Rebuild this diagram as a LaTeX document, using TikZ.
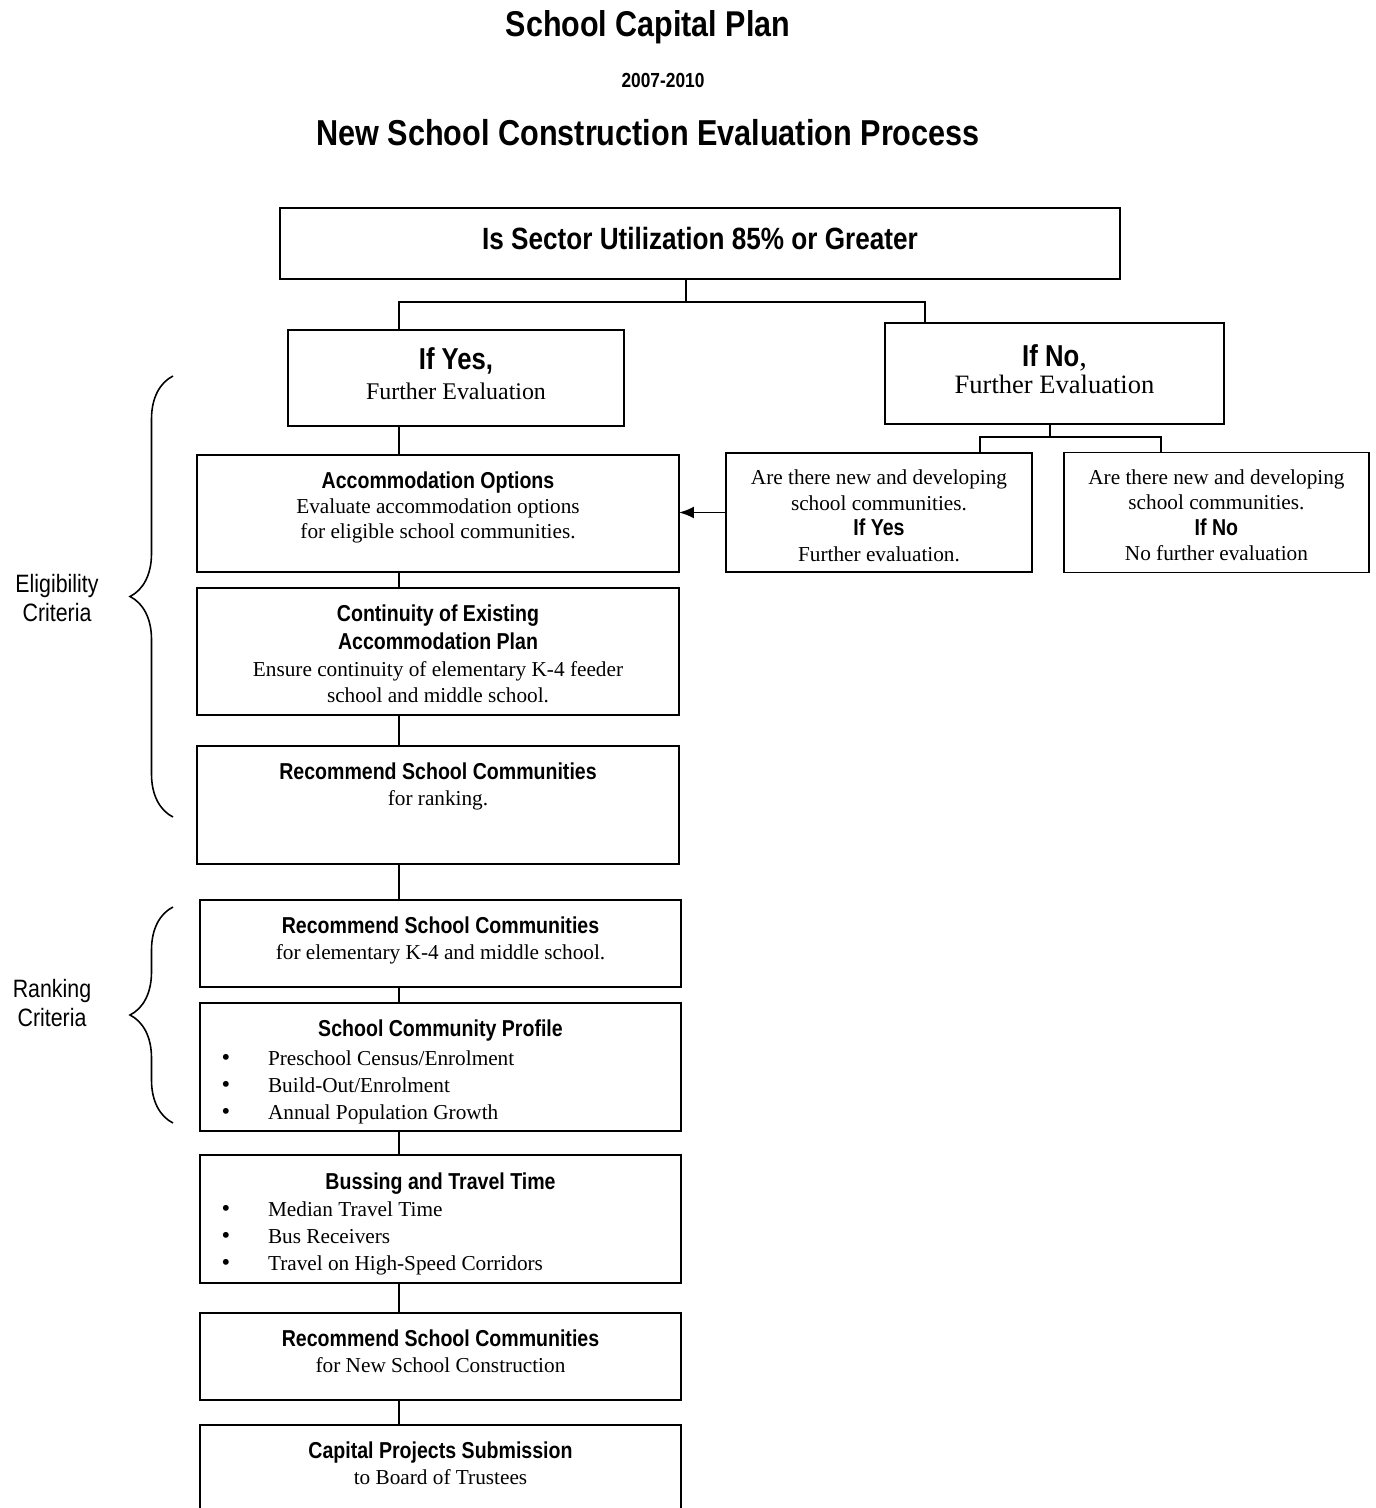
\documentclass[tikz,border=0pt]{standalone}
\usepackage{fontspec}
\setmainfont{Liberation Serif}
\newfontfamily\narrowsf[FakeStretch=0.85]{Liberation Sans}
\usetikzlibrary{arrows.meta, positioning, decorations.pathreplacing}

\newcommand{\hd}{\narrowsf\bfseries\fontsize{13.1}{15.4}\selectfont}
\newcommand{\bd}{\rmfamily\mdseries\fontsize{12.1}{14.5}\selectfont}
\newcommand{\bulletline}[1]{\makebox[9.62cm][l]{\hspace{0.43cm}\makebox[0.93cm][l]{\fontsize{14}{14.5}\selectfont\textbullet}#1}}

\begin{document}
\begin{tikzpicture}[
    x=0.02cm, y=-0.02cm,
    box/.style={draw, line width=1.1pt, inner sep=0pt, outer sep=0pt},
    boxtext/.style={align=center, inner sep=0pt, font=\bd},
    link/.style={line width=1.1pt},
    curly/.style={decorate, decoration={brace, amplitude=0.86cm, aspect=0.5}, line width=0.9pt},
    side/.style={align=center, font=\narrowsf\fontsize{14.3}{16}\selectfont}
]
    \useasboundingbox (0,0) rectangle (1376,1508);

    % titles
    \node[font=\narrowsf\bfseries\fontsize{20.4}{24}\selectfont] (title) at (648,27) {School Capital Plan};
    \node[font=\narrowsf\bfseries\fontsize{11.6}{14}\selectfont] (years) at (663,80) {2007-2010};
    \node[font=\narrowsf\bfseries\fontsize{20.5}{24}\selectfont] (subtitle) at (648,133) {New School Construction Evaluation Process};

    % decision
    \node[box, minimum width=16.8cm, minimum height=1.42cm, text depth=0.22cm,
          font=\narrowsf\bfseries\fontsize{17.5}{20}\selectfont] (util) at (700,243.5) {Is Sector Utilization 85\% or Greater};
    \node[box, minimum width=6.72cm, minimum height=1.92cm] (ifyes) at (456,378) {};
    \node[boxtext, below=0.34cm of ifyes.north] (ifyest)
        {\narrowsf\bfseries\fontsize{17.2}{19}\selectfont If Yes,\\[2.6pt] \rmfamily\mdseries\fontsize{13.6}{16}\selectfont Further Evaluation};
    \node[box, minimum width=6.78cm, minimum height=2.02cm] (ifno) at (1054.5,373.5) {};
    \node[boxtext, below=0.42cm of ifno.north] (ifnot)
        {\narrowsf\bfseries\fontsize{17.2}{19}\selectfont If No{\rmfamily\mdseries,}\\[0.8pt] \rmfamily\mdseries\fontsize{15.1}{17}\selectfont Further Evaluation};

    % if no branch
    \node[box, minimum width=6.12cm, minimum height=2.38cm] (subyes) at (879,512.5) {};
    \node[boxtext, below=0.33cm of subyes.north] (subyest)
        {\bd Are there new and developing\\ \bd school communities.\\ \hd If Yes\\ \bd Further evaluation.};
    \node[box, minimum width=6.10cm, minimum height=2.40cm, right=0.64cm of subyes] (subno) {};
    \node[boxtext, below=0.33cm of subno.north] (subnot)
        {\bd Are there new and developing\\ \bd school communities.\\ \hd If No\\ \bd No further evaluation};

    % main column
    \node[box, minimum width=9.64cm, minimum height=2.34cm, below=0.58cm of ifyes, xshift=-0.36cm] (accom) {};
    \node[boxtext, below=0.32cm of accom.north] (accomt)
        {\hd Accommodation Options\\ \bd Evaluate accommodation options\\ \bd for eligible school communities.};
    \node[box, minimum width=9.64cm, minimum height=2.54cm, below=0.32cm of accom] (cont) {};
    \node[boxtext, below=0.34cm of cont.north] (contt)
        {\hd Continuity of Existing\\[1pt] \hd Accommodation Plan\\[0.8pt] \bd Ensure continuity of elementary K-4 feeder\\[0.3pt] \bd school and middle school.};
    \node[box, minimum width=9.64cm, minimum height=2.36cm, below=0.62cm of cont] (rank) {};
    \node[boxtext, below=0.34cm of rank.north] (rankt)
        {\hd Recommend School Communities\\ \bd for ranking.};
    \node[box, minimum width=9.62cm, minimum height=1.74cm, below=0.72cm of rank, xshift=0.05cm] (k4) {};
    \node[boxtext, below=0.34cm of k4.north] (k4t)
        {\hd Recommend School Communities\\ \bd for elementary K-4 and middle school.};
    \node[box, minimum width=9.62cm, minimum height=2.56cm, below=0.32cm of k4] (prof) {};
    \node[boxtext, below=0.34cm of prof.north] (proft)
        {\hd School Community Profile\\[1.7pt] \bd\bulletline{Preschool Census/Enrolment}\\[0.9pt] \bd\bulletline{Build-Out/Enrolment}\\[0.9pt] \bd\bulletline{Annual Population Growth}};
    \node[box, minimum width=9.62cm, minimum height=2.56cm, below=0.48cm of prof] (buss) {};
    \node[boxtext, below=0.35cm of buss.north] (busst)
        {\hd Bussing and Travel Time\\[1.2pt] \bd\bulletline{Median Travel Time}\\[0.8pt] \bd\bulletline{Bus Receivers}\\[0.8pt] \bd\bulletline{Travel on High-Speed Corridors}};
    \node[box, minimum width=9.62cm, minimum height=1.74cm, below=0.6cm of buss] (recnew) {};
    \node[boxtext, below=0.34cm of recnew.north] (recnewt)
        {\hd Recommend School Communities\\ \bd for New School Construction};
    \node[box, minimum width=9.62cm, minimum height=2.4cm, below=0.5cm of recnew] (cap) {};
    \node[boxtext, below=0.34cm of cap.north] (capt)
        {\hd Capital Projects Submission\\ \bd to Board of Trustees};

    % connectors
    \coordinate (split) at (686,302);
    \coordinate (nodrop) at (925,302);
    \coordinate (spine) at (399,302);
    \draw[link] (util.south -| split) -- (split);
    \draw[link] (ifyes.north -| spine) |- (nodrop) -- (ifno.north -| nodrop);
    \foreach \a/\b in {ifyes/accom, accom/cont, cont/rank, rank/k4, k4/prof, prof/buss, buss/recnew, recnew/cap}
        \draw[link] (\a.south -| spine) -- (\b.north -| spine);

    \coordinate (nsm) at (1050,437);
    \coordinate (nsl) at (980,437);
    \coordinate (nsr) at (1161,437);
    \draw[link] (ifno.south -| nsm) -- (nsm);
    \draw[link] (subyes.north -| nsl) |- (nsr) -- (subno.north -| nsr);
    \draw[link, -{Latex[length=0.3cm,width=0.24cm]}] (subyes.west) -- (subyes.west -| accom.east);

    % criteria braces
    \coordinate (eligtop) at (173,376);
    \coordinate (eligbot) at (173,817);
    \coordinate (ranktop) at (173,907);
    \coordinate (rankbot) at (173,1123);
    \draw[curly] (eligbot) -- (eligtop);
    \draw[curly] (rankbot) -- (ranktop);
    \node[side] (elig) at (57,598) {Eligibility\\Criteria};
    \node[side] (rankc) at (52,1003) {Ranking\\Criteria};
\end{tikzpicture}
\end{document}
